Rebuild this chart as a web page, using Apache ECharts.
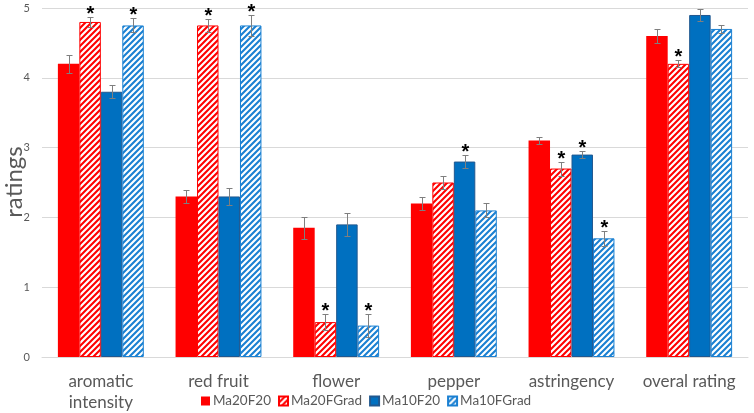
<!DOCTYPE html>
<html><head><meta charset="utf-8">
<script src="https://cdn.jsdelivr.net/npm/echarts@6/dist/echarts.min.js"></script>
<style>html,body{margin:0;padding:0;background:#fff}#c{width:754px;height:413px}</style>
</head><body><div id="c"></div>
<script>
const categories = ['aromatic\nintensity','red fruit','flower','pepper','astringency','overal rating'];
const seriesNames = ['Ma20F20','Ma20FGrad','Ma10F20','Ma10FGrad'];
const yAxisTitle = 'ratings';
const ma20F20 = [4.2, 2.3, 1.85, 2.2, 3.1, 4.6];
const ma20FGrad = [4.8, 4.75, 0.5, 2.5, 2.7, 4.2];
const ma10F20 = [3.8, 2.3, 1.9, 2.8, 2.9, 4.9];
const ma10FGrad = [4.75, 4.75, 0.45, 2.1, 1.7, 4.7];
const errMa20F20 = [0.13, 0.09, 0.16, 0.09, 0.05, 0.10];
const errMa20FGrad = [0.07, 0.09, 0.12, 0.10, 0.10, 0.05];
const errMa10F20 = [0.09, 0.12, 0.17, 0.09, 0.05, 0.08];
const errMa10FGrad = [0.10, 0.15, 0.16, 0.10, 0.11, 0.06];
const sigMa20F20 = [0, 0, 0, 0, 0, 0];
const sigMa20FGrad = [1, 1, 1, 0, 1, 1];
const sigMa10F20 = [0, 0, 0, 1, 1, 0];
const sigMa10FGrad = [1, 1, 1, 0, 1, 0];
const yTicks = [0, 1, 2, 3, 4, 5];

const values = [ma20F20, ma20FGrad, ma10F20, ma10FGrad];
const errs = [errMa20F20, errMa20FGrad, errMa10F20, errMa10FGrad];
const sigs = [sigMa20F20, sigMa20FGrad, sigMa10F20, sigMa10FGrad];

const RED = '#ff0000', BLUE = '#0070c0', BLUE_H = '#1a80d2';
function makePattern(color){
  const P = 6;
  const c = document.createElement('canvas'); c.width = P; c.height = P;
  const ctx = c.getContext('2d');
  ctx.fillStyle = '#fff'; ctx.fillRect(0,0,P,P);
  ctx.strokeStyle = color; ctx.lineWidth = 2.1; ctx.beginPath();
  ctx.moveTo(-1,P+1); ctx.lineTo(P+1,-1);
  ctx.moveTo(-1,1); ctx.lineTo(1,-1);
  ctx.moveTo(P-1,P+1); ctx.lineTo(P+1,P-1);
  ctx.stroke();
  return c;
}
const styles = [
  {color: RED, borderColor: RED, borderWidth: 0},
  {color: {image: makePattern(RED), repeat: 'repeat'}, borderColor: RED, borderWidth: 1},
  {color: BLUE, borderColor: '#21588f', borderWidth: 1},
  {color: {image: makePattern(BLUE_H), repeat: 'repeat'}, borderColor: BLUE_H, borderWidth: 1}
];
const GAP = 0.27;
const series = [];
seriesNames.forEach((n, i) => {
  series.push({
    name: n, type: 'bar', data: values[i], barGap: '0%', barCategoryGap: (GAP*100)+'%',
    itemStyle: styles[i], emphasis: {disabled: true}
  });
});
seriesNames.forEach((n, i) => {
  series.push({
    type: 'custom', z: 10, silent: true,
    data: values[i].map((v, k) => [k, v, errs[i][k], sigs[i][k]]),
    renderItem: function(params, api){
      const x = api.value(0), v = api.value(1), e = api.value(2), s = api.value(3);
      const band = api.size([1, 0])[0];
      const bw = band * (1 - GAP) / 4;
      const cx = Math.round(api.coord([x, v])[0] + (i - 1.5) * bw) + 0.5;
      const yT = Math.round(api.coord([x, v + e])[1]) + 0.5;
      const yB = Math.round(api.coord([x, v - e])[1]) + 0.5;
      const st = {stroke: '#7f7f7f', lineWidth: 1};
      const ch = [
        {type: 'line', shape: {x1: cx, y1: yT, x2: cx, y2: yB}, style: st},
        {type: 'line', shape: {x1: cx - 3, y1: yT, x2: cx + 3, y2: yT}, style: st},
        {type: 'line', shape: {x1: cx - 3, y1: yB, x2: cx + 3, y2: yB}, style: st}
      ];
      if (s) {
        ch.push({type: 'text', x: cx, y: yT - 3,
          style: {text: '*', fill: '#000', font: 'bold 20px "Liberation Sans"', align: 'center', verticalAlign: 'middle'}});
      }
      return {type: 'group', children: ch};
    }
  });
});

const chart = echarts.init(document.getElementById('c'));
chart.setOption({
  animation: false,
  grid: {left: 42, right: 6, top: 8, bottom: 56, containLabel: false, outerBoundsMode: 'none'},
  graphic: [{
    type: 'text', x: 14, y: 182, rotation: Math.PI / 2, silent: true,
    style: {text: yAxisTitle, fill: '#595959', font: '24px Lato', align: 'center', verticalAlign: 'middle'}
  }],
  legend: {
    data: seriesNames, bottom: 0, left: 196, itemWidth: 9, itemHeight: 9, itemGap: 7,
    textStyle: {color: '#595959', fontSize: 13.5, fontFamily: 'Lato', padding: [0,0,0,-2]},
    icon: 'rect'
  },
  xAxis: {
    type: 'category', data: categories,
    axisLine: {lineStyle: {color: '#d9d9d9'}}, axisTick: {show: false},
    axisLabel: {color: '#595959', fontSize: 17, fontFamily: 'Lato', margin: 14, lineHeight: 21, interval: 0}
  },
  yAxis: {
    type: 'value', min: yTicks[0], max: yTicks[yTicks.length-1], interval: 1,
    axisLine: {show: false}, axisTick: {show: false},
    axisLabel: {color: '#595959', fontSize: 11, fontFamily: 'Lato', margin: 12},
    splitLine: {lineStyle: {color: '#d9d9d9'}}
  },
  series: series
});
</script></body></html>
